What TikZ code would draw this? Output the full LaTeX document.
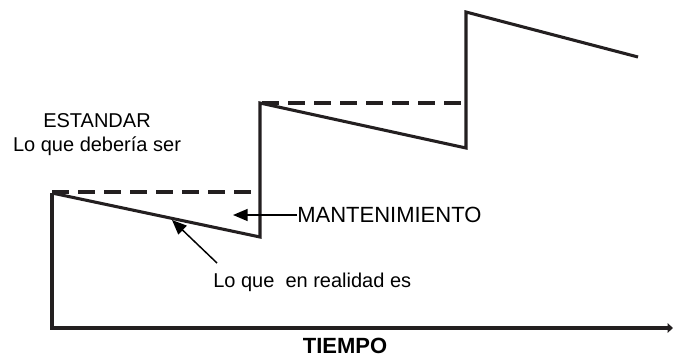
\documentclass[tikz,border=0pt]{standalone}
\usepackage{fontspec}
\setmainfont{Liberation Sans}
\usetikzlibrary{arrows.meta}
\definecolor{ink}{RGB}{35,31,32}
\tikzstyle{saw} = [line width=2.3pt, draw=ink, line join=miter]
\tikzstyle{standard} = [line width=2.3pt, draw=ink, dash pattern=on 12.5pt off 7pt]
\tikzstyle{pointer} = [line width=1.1pt, -{Triangle[length=11pt, width=9pt]}]
\tikzstyle{label} = [inner sep=0pt, font=\fontsize{15}{18}\selectfont]

\begin{document}
\begin{tikzpicture}[x=0.75pt, y=-0.75pt]

    \useasboundingbox (0,0) rectangle (673,360);

    % Corners of the curve
    \coordinate (origin) at (52,328);
    \coordinate (top1) at (52,193);
    \coordinate (low1) at (260,237);
    \coordinate (top2) at (260,103);
    \coordinate (low2) at (466,148);
    \coordinate (top3) at (466,12);
    \coordinate (low3) at (638,57);
    \coordinate (axisEnd) at (673,328);

    % Axis and curve
    \draw [saw, -{Triangle[length=4pt, width=7pt]}] (top1) -- (origin) -- (axisEnd);
    \draw [saw] (top1) -- (low1) -- (top2) -- (low2) -- (top3) -- (low3);

    % Standard levels
    \draw [standard] (52,192) -- (254,192);
    \draw [standard] (262,103) -- (463,103);

    % Labels
    \node (standardLabel) [label, align=center] at (97,135) {ESTANDAR\\Lo que debería ser};
    \node (maintenance) [label, anchor=west, font=\fontsize{16.5}{20}\selectfont] at (297,215) {MANTENIMIENTO};
    \node (reality) [label, anchor=west] at (213,282) {Lo que~ en realidad es};
    \node (time) [label, font=\bfseries\fontsize{16.5}{20}\selectfont] at (345,346) {TIEMPO};

    \coordinate (maintTip) at (233,215);
    \coordinate (realTail) at (217,263);
    \coordinate (realTip) at (172,220);

    % Arrows
    \draw [pointer] (maintenance.west) -- (maintTip);
    \draw [pointer] (realTail) -- (realTip);

\end{tikzpicture}
\end{document}
